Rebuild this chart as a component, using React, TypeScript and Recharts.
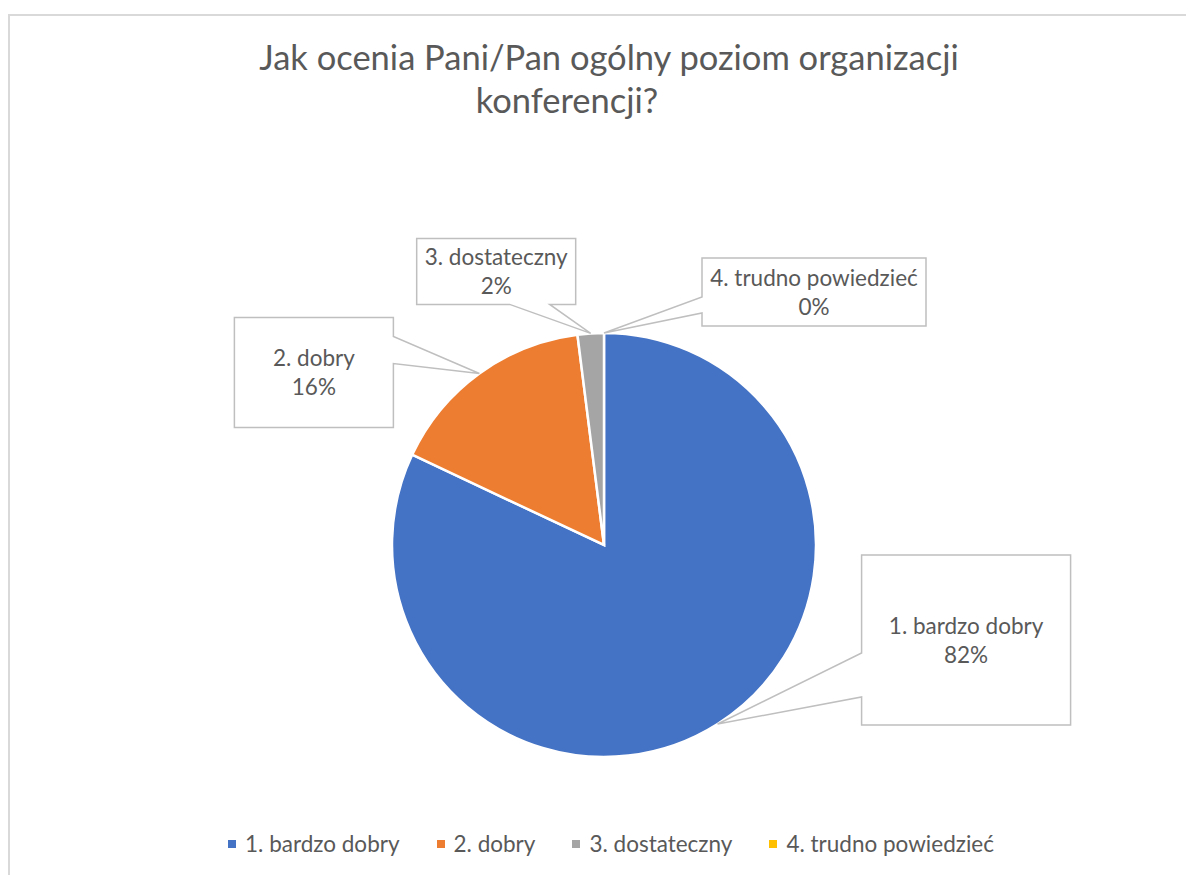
import React from 'react';
import { PieChart, Pie, Cell, Legend } from 'recharts';

const categories = ['1. bardzo dobry', '2. dobry', '3. dostateczny', '4. trudno powiedzieć'];
const shares = [82, 16, 2, 0];
const colors = ['#4472C4', '#ED7D31', '#A5A5A5', '#FFC000'];
const titleLines = ['Jak ocenia Pani/Pan ogólny poziom organizacji', 'konferencji?'];

const data = categories.map((name, i) => ({ name, value: shares[i] }));

const FONT = 'Lato, "Open Sans", sans-serif';
const TEXT = '#595959';
const LINE = '#BFBFBF';
const RADIAN = Math.PI / 180;

// callout box placement relative to the pointer tip (style config)
const calloutLayout = [
  { dx: 144, dy: -169, w: 209, h: 170, side: 'left', a: 98, b: 142 },
  { dx: -245, dy: -56, w: 159, h: 110, side: 'right', a: 19, b: 46 },
  { dx: -174, dy: -95, w: 159, h: 66, side: 'bottom', a: 93, b: 133 },
  { dx: 98, dy: -75, w: 224, h: 68, side: 'left', a: 39, b: 55 },
];

const renderCallout = (props: any) => {
  const { cx, cy, midAngle, outerRadius, index, name, percent } = props;
  const tx = cx + outerRadius * Math.cos(-midAngle * RADIAN);
  const ty = cy + outerRadius * Math.sin(-midAngle * RADIAN);
  const L = calloutLayout[index];
  const x = tx + L.dx;
  const y = ty + L.dy;
  const { w, h, a, b } = L;
  let d = '';
  if (L.side === 'left') {
    d = `M${x},${y} H${x + w} V${y + h} H${x} V${y + b} L${tx},${ty} L${x},${y + a} Z`;
  } else if (L.side === 'right') {
    d = `M${x},${y} H${x + w} V${y + a} L${tx},${ty} L${x + w},${y + b} V${y + h} H${x} Z`;
  } else {
    d = `M${x},${y} H${x + w} V${y + h} H${x + b} L${tx},${ty} L${x + a},${y + h} H${x} Z`;
  }
  const mx = x + w / 2;
  const my = y + h / 2;
  return (
    <g key={`callout-${index}`}>
      <path d={d} fill="#fff" stroke={LINE} strokeWidth={1.5} />
      <text x={mx} y={my - 6} textAnchor="middle" fill={TEXT} fontFamily={FONT} fontSize={22.5}>
        {name}
      </text>
      <text x={mx} y={my + 23} textAnchor="middle" fill={TEXT} fontFamily={FONT} fontSize={22.5}>
        {`${Math.round(percent * 100)}%`}
      </text>
    </g>
  );
};

const renderLegend = (props: any) => {
  const { payload } = props;
  return (
    <div style={{ display: 'flex', justifyContent: 'center', alignItems: 'center', fontFamily: FONT, fontSize: 22.5, color: TEXT, paddingLeft: 36 }}>
      {payload.map((entry: any, i: number) => (
        <div key={i} style={{ display: 'flex', alignItems: 'center', marginRight: i < payload.length - 1 ? 37 : 0 }}>
          <span style={{ width: 8, height: 8, background: entry.color, display: 'inline-block', marginRight: 9 }} />
          <span>{entry.value}</span>
        </div>
      ))}
    </div>
  );
};

export default function App() {
  return (
    <div style={{ position: 'absolute', left: 0, top: 0, width: 1186, height: 875, background: '#fff', overflow: 'hidden' }}>
      <div style={{ position: 'absolute', left: 8, top: 14, width: 1300, height: 1000, border: '2px solid #D9D9D9', boxSizing: 'border-box' }} />
      <svg width={1186} height={140} style={{ position: 'absolute', left: 0, top: 0 }}>
        <text x={609} y={70} textAnchor="middle" fill={TEXT} fontFamily={FONT} fontSize={34.5}>{titleLines[0]}</text>
        <text x={567} y={113} textAnchor="middle" fill={TEXT} fontFamily={FONT} fontSize={34.5}>{titleLines[1]}</text>
      </svg>
      <div style={{ position: 'absolute', left: 0, top: 0 }}>
        <PieChart width={1186} height={875} margin={{ top: 0, right: 0, bottom: 0, left: 0 }}>
          <Pie
            data={data}
            dataKey="value"
            nameKey="name"
            cx={604}
            cy={545}
            outerRadius={212}
            startAngle={90}
            endAngle={-270}
            stroke="#fff"
            strokeWidth={2.5}
            label={renderCallout}
            labelLine={false}
            isAnimationActive={false}
          >
            {data.map((d, i) => (
              <Cell key={d.name} fill={colors[i]} />
            ))}
          </Pie>
          <Legend
            content={renderLegend}
            wrapperStyle={{ position: 'absolute', left: 0, top: 830, bottom: 'auto', width: 1186 }}
          />
        </PieChart>
      </div>
    </div>
  );
}
